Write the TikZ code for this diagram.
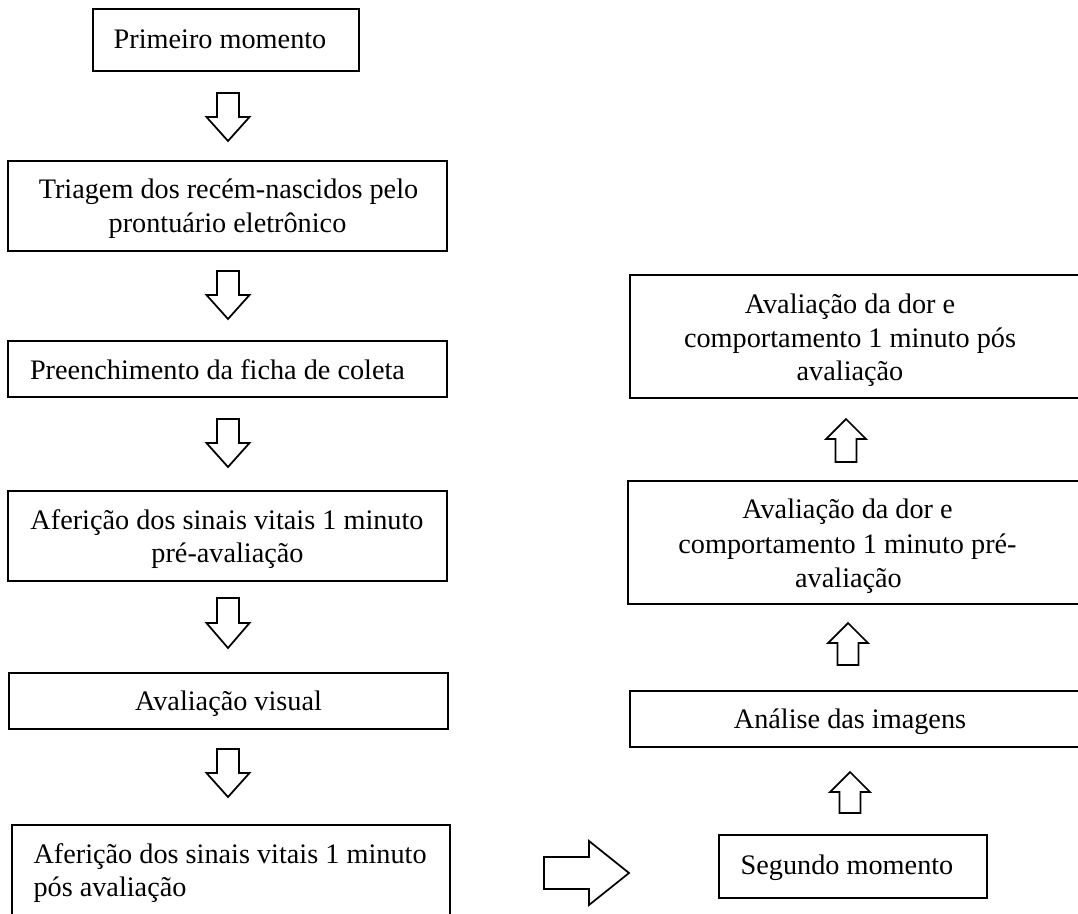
\documentclass[tikz,border=0pt]{standalone}
\usepackage{fontspec}
\setmainfont{Liberation Serif}
\usetikzlibrary{fit}
\tikzset{
  box/.style={draw=black, line width=1pt, inner sep=0pt, rectangle},
  txt/.style={inner sep=0pt, anchor=base, font=\fontsize{11.3}{13.6}\selectfont},
  txtl/.style={txt, anchor=base west},
  blk/.style={draw=black, line width=0.7pt, fill=white, line join=miter}
}
\newcommand\dnblk[3]{% center x, top y, tip y
  \draw[blk] ({#1-11},#2) -- ({#1+11},#2) -- ({#1+11},{(#2+#3)/2}) -- ({#1+21.5},{(#2+#3)/2})
    -- (#1,#3) -- ({#1-21.5},{(#2+#3)/2}) -- ({#1-11},{(#2+#3)/2}) -- cycle;}
\newcommand\upblk[3]{% center x, tip y, bottom y
  \draw[blk] (#1,#2) -- ({#1+20},{#2+20}) -- ({#1+10.5},{#2+20}) -- ({#1+10.5},#3)
    -- ({#1-10.5},#3) -- ({#1-10.5},{#2+20}) -- ({#1-20},{#2+20}) -- cycle;}
\begin{document}
\begin{tikzpicture}[x=0.4pt,y=-0.4pt]
\useasboundingbox (0,0) rectangle (1078,913);
\clip (0,0) rectangle (1078,913);
% left column boxes
\node[box, fit={(93,9) (359,71)}] (b1) {};
\node[box, fit={(8,161) (447,251)}] (b2) {};
\node[box, fit={(8,341) (447,397)}] (b3) {};
\node[box, fit={(8,491) (447,581)}] (b4) {};
\node[box, fit={(9,673) (448,729)}] (b5) {};
\node[box, fit={(12,825) (450,950)}] (b6) {};
% right column boxes
\node[box, fit={(630,275) (1085,398)}] (r1) {};
\node[box, fit={(628,481) (1085,604)}] (r2) {};
\node[box, fit={(630,691) (1085,747)}] (r3) {};
\node[box, fit={(719,835) (987,898)}] (r4) {};
% texts
\node[txt] (t1) at (220,48) {Primeiro momento};
\node[txt] (t2a) at (228.5,198) {Triagem dos recém-nascidos pelo};
\node[txt] (t2b) at (227.5,232) {prontuário eletrônico};
\node[txt] (t3) at (217.5,379) {Preenchimento da ficha de coleta};
\node[txt] (t4a) at (227,529) {Aferição dos sinais vitais 1 minuto};
\node[txt] (t4b) at (227.5,562) {pré-avaliação};
\node[txt] (t5) at (228.5,710) {Avaliação visual};
\node[txtl] (t6a) at (33,863) {Aferição dos sinais vitais 1 minuto};
\node[txtl] (t6b) at (33,896) {pós avaliação};
\node[txt] (r1a) at (850,313) {Avaliação da dor e};
\node[txt] (r1b) at (850,347) {comportamento 1 minuto pós};
\node[txt] (r1c) at (850,380) {avaliação};
\node[txt] (r2a) at (847.5,518) {Avaliação da dor e};
\node[txt] (r2b) at (847.5,553) {comportamento 1 minuto pré-};
\node[txt] (r2c) at (848.5,587) {avaliação};
\node[txt] (t7) at (850,728) {Análise das imagens};
\node[txt] (t8) at (847,874) {Segundo momento};
% block arrows, left column (downwards)
\dnblk{228}{93}{141}
\dnblk{228}{271}{319}
\dnblk{228}{419}{467}
\dnblk{228}{598}{648}
\dnblk{228}{749}{797}
% block arrows, right column (upwards)
\upblk{846}{419}{462}
\upblk{848}{623}{665}
\upblk{850}{772}{813}
% horizontal block arrow
\draw[blk] (544,857) -- (589,857) -- (589,841) -- (629,873) -- (589,905) -- (589,889) -- (544,889) -- cycle;
\end{tikzpicture}
\end{document}
